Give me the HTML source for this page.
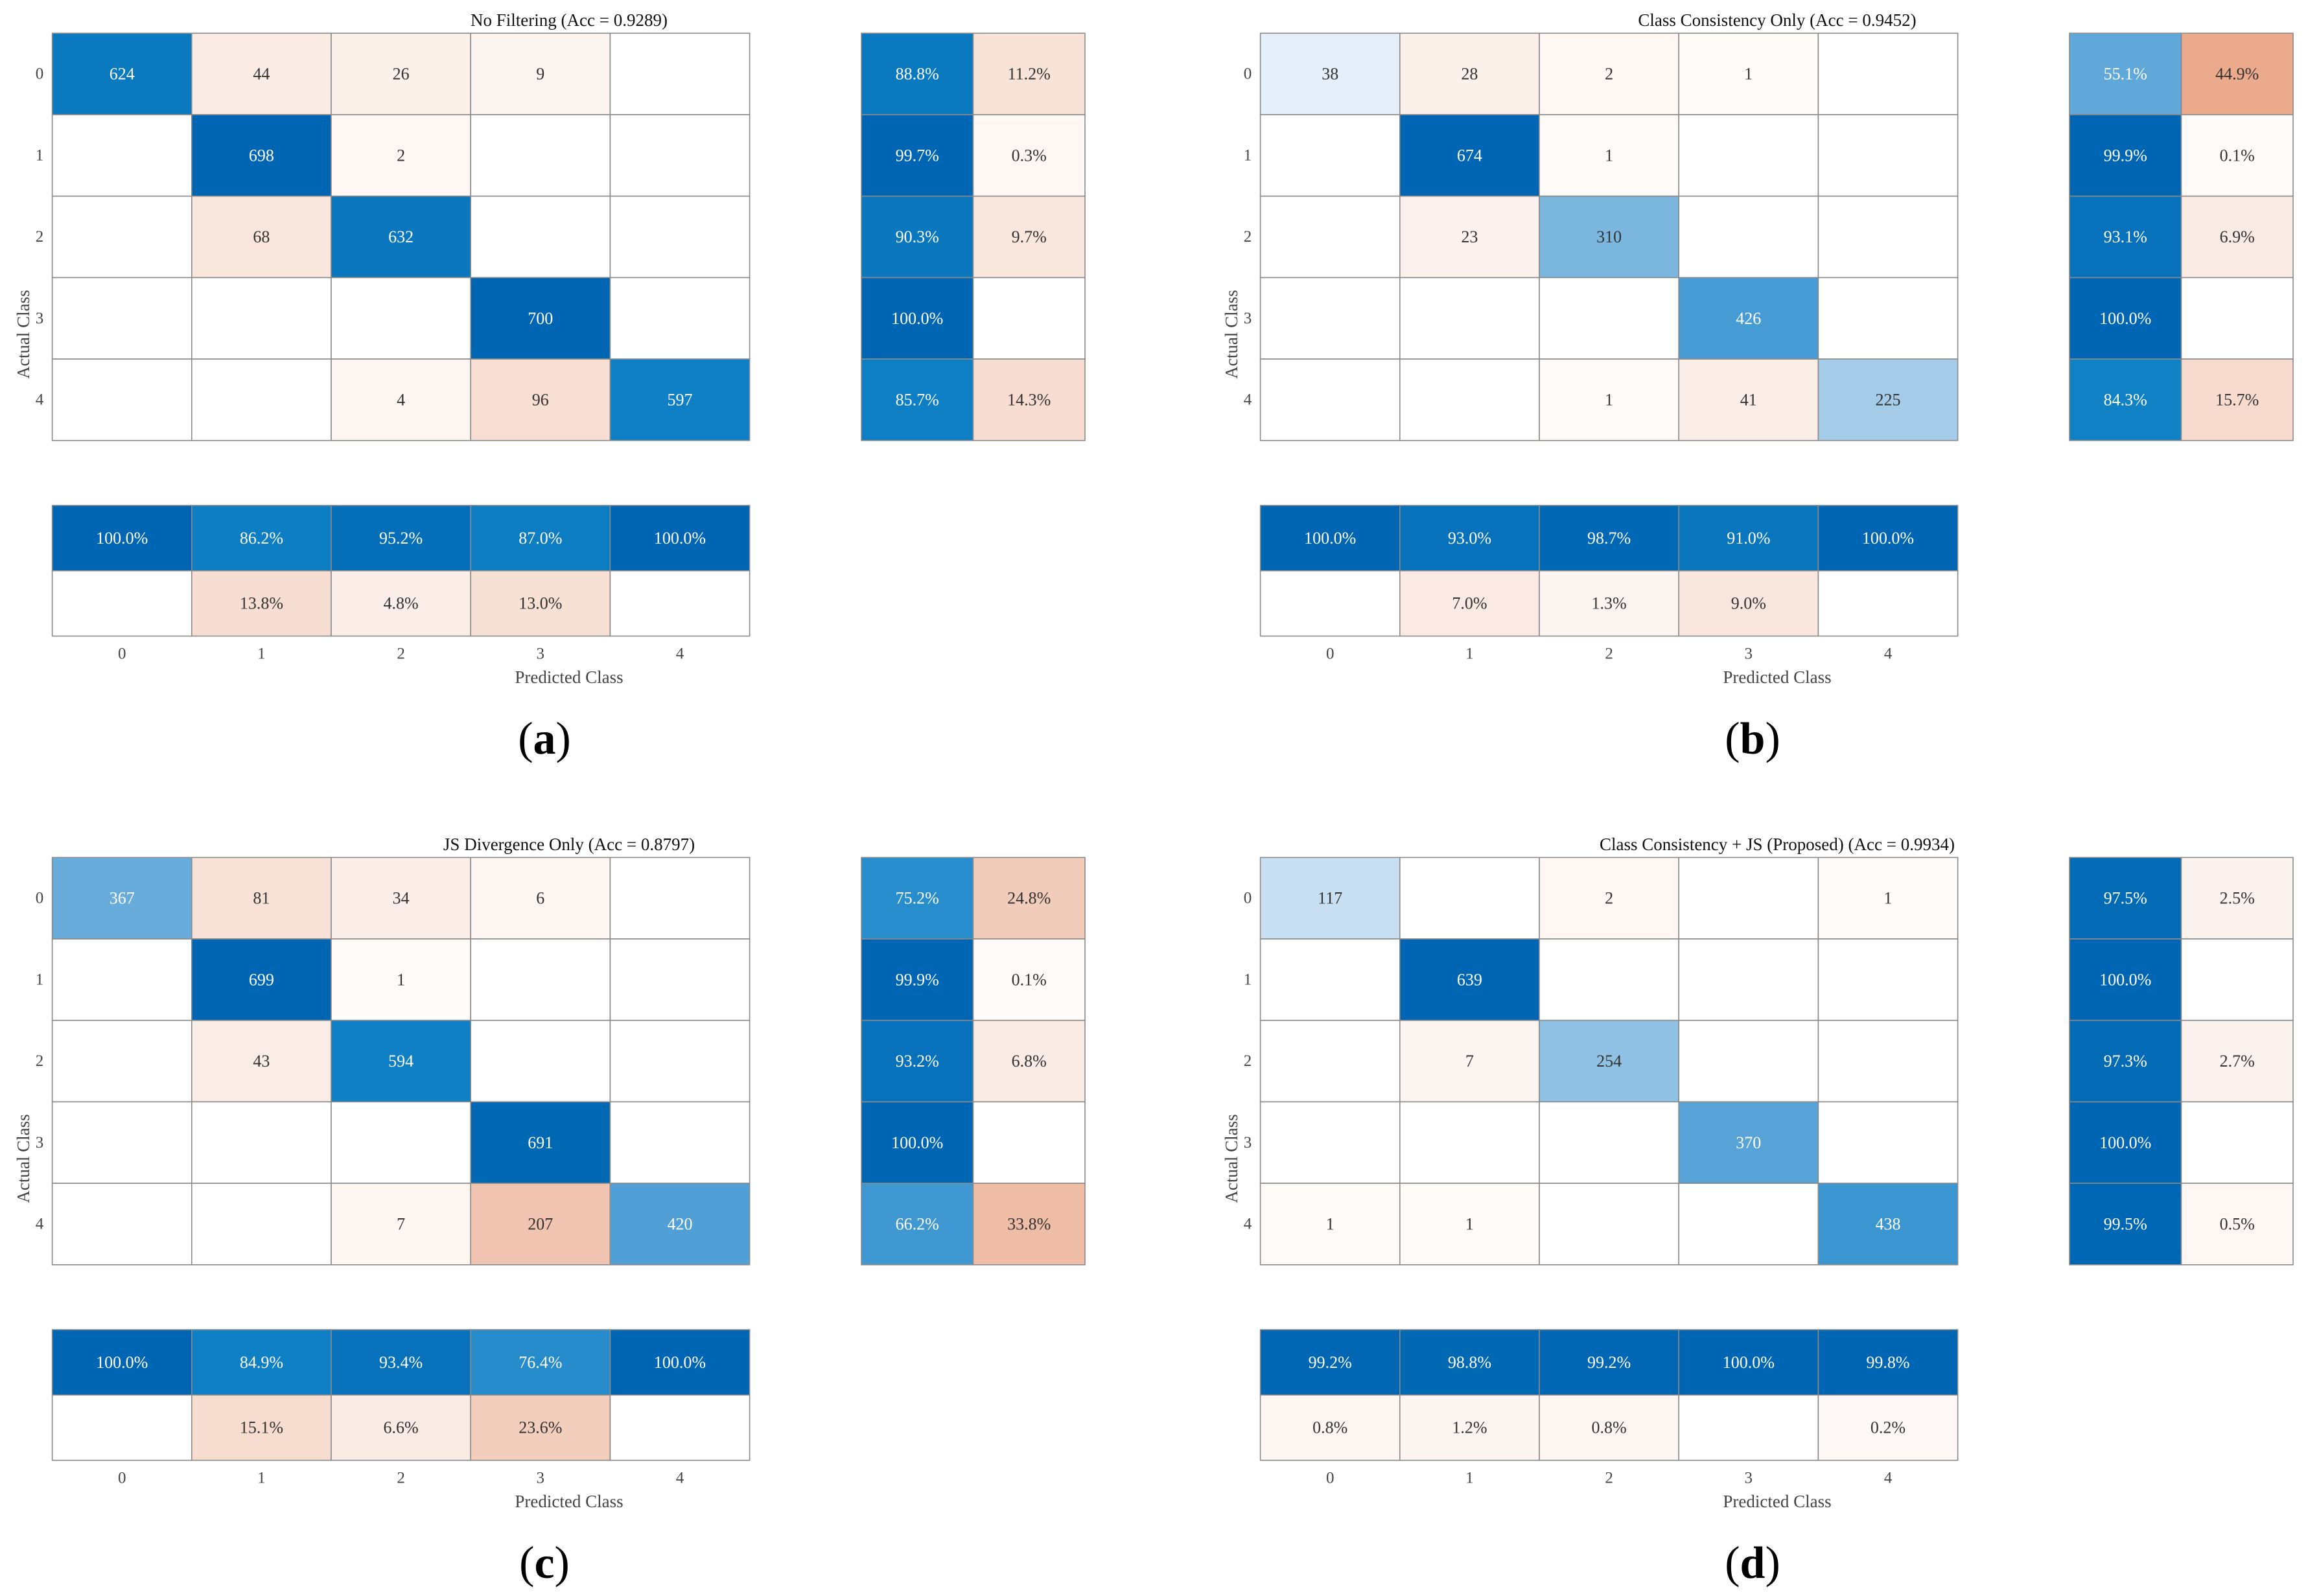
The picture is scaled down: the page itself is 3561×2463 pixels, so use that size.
<!DOCTYPE html>
<html><head><meta charset="utf-8">
<style>
html,body{margin:0;padding:0;background:#fff;}
svg{display:block;font-family:"Liberation Serif",serif;}
</style></head>
<body>
<svg id="fig" width="3561" height="2463" viewBox="0 0 3561 2463" xmlns="http://www.w3.org/2000/svg"></svg>
<script>
const classes = ["0","1","2","3","4"];
const titles = ["No Filtering (Acc = 0.9289)","Class Consistency Only (Acc = 0.9452)","JS Divergence Only (Acc = 0.8797)","Class Consistency + JS (Proposed) (Acc = 0.9934)"];
const panelLabels = ["a","b","c","d"];
const matA = [[624,44,26,9,0],[0,698,2,0,0],[0,68,632,0,0],[0,0,0,700,0],[0,0,4,96,597]];
const matB = [[38,28,2,1,0],[0,674,1,0,0],[0,23,310,0,0],[0,0,0,426,0],[0,0,1,41,225]];
const matC = [[367,81,34,6,0],[0,699,1,0,0],[0,43,594,0,0],[0,0,0,691,0],[0,0,7,207,420]];
const matD = [[117,0,2,0,1],[0,639,0,0,0],[0,7,254,0,0],[0,0,0,370,0],[1,1,0,0,438]];
const mats = [matA,matB,matC,matD];

const NS="http://www.w3.org/2000/svg";
const svg=document.getElementById('fig');
const offsets=[[0,0],[1864,0],[0,1272],[1864,1272]];
const L=80.6, CW=215.2, T=51.3, RH=125.7, SL=1329, SW=172.5, CT=780, CH=100.8;
const BLUE_STOPS=[[0,[255,255,255]],[0.05,[230,240,249]],[0.33,[165,205,233]],[0.6,[80,160,215]],[0.85,[15,128,197]],[1,[0,102,179]]];
const ORANGE_STOPS=[[0,[255,255,255]],[0.003,[254,247,243]],[0.06,[250,236,230]],[0.14,[247,222,210]],[0.3,[240,195,175]],[0.45,[235,170,140]],[1,[217,83,25]]];
function grad(stops,t){
  for(let k=1;k<stops.length;k++){
    if(t<=stops[k][0]){const a=stops[k-1],b=stops[k];const f=(t-a[0])/(b[0]-a[0]);
      return 'rgb('+a[1].map((c,i)=>Math.round(c+(b[1][i]-c)*f)).join(',')+')';}
  }
  return 'rgb('+stops[stops.length-1][1].join(',')+')';
}
function el(tag,attrs,parent){const e=document.createElementNS(NS,tag);for(const k in attrs)e.setAttribute(k,attrs[k]);(parent||svg).appendChild(e);return e;}
function txt(s,x,y,size,fill,parent,extra){const t=el('text',Object.assign({x:x,y:y,'font-size':size,fill:fill,'text-anchor':'middle','dominant-baseline':'central'},extra||{}),parent);t.textContent=s;return t;}
function cell(g,x,y,w,h,t,stops,label,name){
  const r=el('rect',{x:x,y:y,width:w,height:h,fill:t>0?grad(stops,t):'#fff',stroke:'#8a8a8a','stroke-width':1.6},g);
  
  
  if(label){const tt=txt(label,x+w/2,y+h/2,26,t>0.5?'#fff':'#333',g);
    
    }
}
mats.forEach((m,p)=>{
  const g=el('g',{transform:'translate('+offsets[p][0]+','+offsets[p][1]+')'});
  
  
  let mx=0;m.forEach(r=>r.forEach(v=>{if(v>mx)mx=v;}));
  for(let i=0;i<5;i++)for(let j=0;j<5;j++){
    const v=m[i][j];
    cell(g,L+j*CW,T+i*RH,CW,RH,v/mx,i===j?BLUE_STOPS:ORANGE_STOPS,v>0?String(v):'', 'cell-r'+i+'-c'+j);
  }
  for(let i=0;i<5;i++){
    const s=m[i].reduce((a,b)=>a+b,0);const c=m[i][i]/s*100,w=100-c;
    cell(g,SL,T+i*RH,SW,RH,c/100,BLUE_STOPS,c>0?c.toFixed(1)+'%':'','row-summary-correct-'+i);
    cell(g,SL+SW,T+i*RH,SW,RH,w/100,ORANGE_STOPS,w>0.05?w.toFixed(1)+'%':'','row-summary-wrong-'+i);
  }
  for(let j=0;j<5;j++){
    let s=0;for(let i=0;i<5;i++)s+=m[i][j];const c=m[j][j]/s*100,w=100-c;
    cell(g,L+j*CW,CT,CW,CH,c/100,BLUE_STOPS,c>0?c.toFixed(1)+'%':'','col-summary-correct-'+j);
    cell(g,L+j*CW,CT+CH,CW,CH,w/100,ORANGE_STOPS,w>0.05?w.toFixed(1)+'%':'','col-summary-wrong-'+j);
  }
  classes.forEach((c,k)=>{
    const a=txt(c,61,T+k*RH+RH/2,25,'#444',g);
    
    
    const b=txt(c,L+k*CW+CW/2,1009,25,'#444',g);
    
    
  });
  const ti=txt(titles[p],878,31,27,'#111',g);
  
  
  const xl=txt('Predicted Class',878,1045,27,'#444',g);
  
  
  const yl=txt('Actual Class',36,516,27,'#444',g,{transform:'rotate(-90 36 516)'});
  
  
  const pl=el('text',{x:840,y:1140,'font-size':70,fill:'#000','text-anchor':'middle','dominant-baseline':'central'},g);
  
  
  pl.appendChild(document.createTextNode('('));
  const b=el('tspan',{'font-weight':'bold'},pl);b.textContent=panelLabels[p];
  pl.appendChild(document.createTextNode(')'));
});
</script>
</body></html>
